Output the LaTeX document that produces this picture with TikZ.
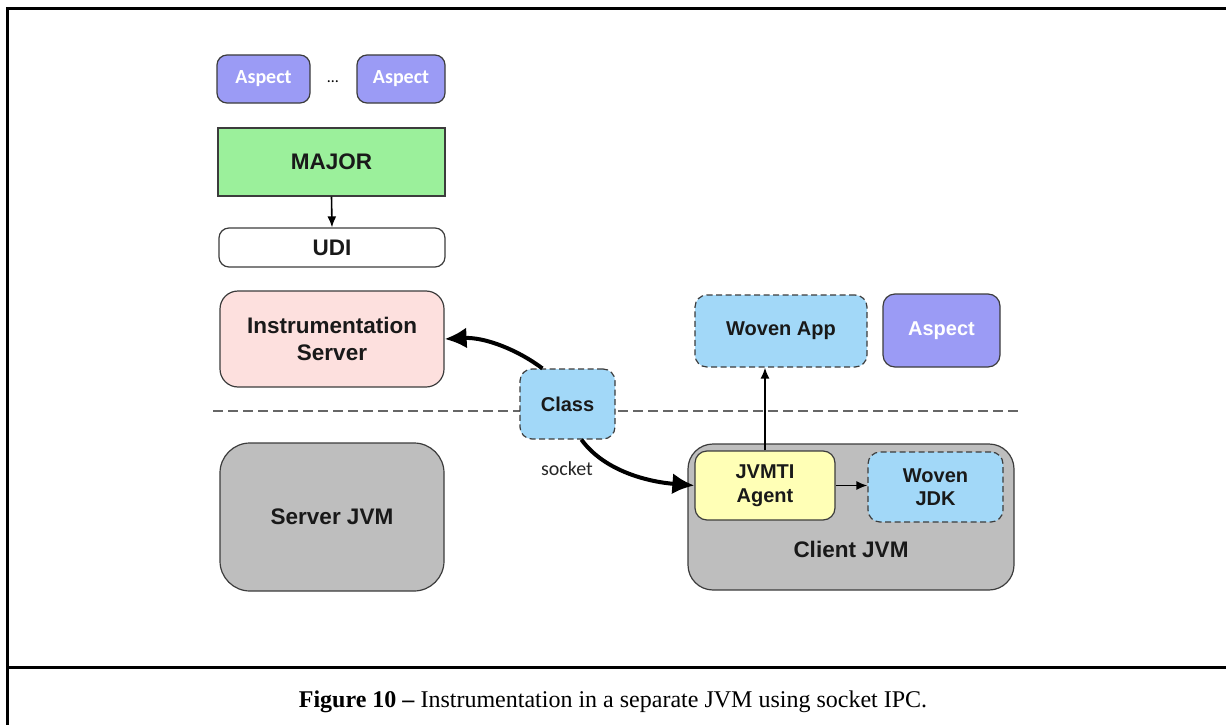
\documentclass[tikz,border=0pt]{standalone}
\usepackage{fontspec}
\setmainfont{Liberation Serif}
\newfontfamily\helv{Liberation Sans}
\newfontfamily\calib{Carlito}
\usetikzlibrary{calc,arrows.meta}
\definecolor{aspectc}{RGB}{155,155,245}
\definecolor{majorc}{RGB}{155,240,155}
\definecolor{pinkc}{RGB}{253,224,222}
\definecolor{bluec}{RGB}{162,216,248}
\definecolor{grayc}{RGB}{190,190,190}
\definecolor{yellowc}{RGB}{255,255,182}
\definecolor{edgec}{RGB}{60,60,60}
\tikzset{
  box/.style={draw=edgec, line width=1.2pt, rounded corners=10pt, align=center, inner sep=0pt,
    font=\helv\bfseries\fontsize{22.5}{27}\selectfont, text=black!90},
  dbox/.style={box, dash pattern=on 6pt off 3.5pt, fill=bluec},
  aspectbox/.style={box, fill=aspectc, text=white, font=\calib\bfseries\fontsize{20}{24}\selectfont},
  thinarrow/.style={line width=1.6pt, -{Latex[length=11pt,width=9pt]}},
  thickarrow/.style={line width=4pt, -{Latex[length=22pt,width=21pt]}},
}
\begin{document}
\begin{tikzpicture}[x=1pt,y=-1pt]
\useasboundingbox (0,0) rectangle (1226,725);
% frame
\draw[line width=3pt] (7,735) -- (7,9) -- (1240,9);
\draw[line width=3pt] (7,667) -- (1240,667);
% separator
\draw[gray!80!black, line width=1.3pt, dash pattern=on 10pt off 5pt] (213,411) -- (1020,411);
% top left
\node[aspectbox, minimum width=93pt, minimum height=48pt] (asp1) at (263.5,79) {Aspect};
\node[aspectbox, minimum width=88pt, minimum height=48pt] (asp2) at (401,79) {Aspect};
\node[font=\calib\fontsize{16}{18}\selectfont] (dots) at (333,82) {\dots};
\node[box, rounded corners=0pt, fill=majorc, minimum width=227pt, minimum height=68pt] (major) at (331.5,162) {MAJOR};
\node[box, fill=white, minimum width=226pt, minimum height=39pt] (udi) at (332,247.5) {UDI};
\draw[thinarrow] (major.south) -- (udi.north);
% left
\node[box, fill=pinkc, rounded corners=18pt, minimum width=224pt, minimum height=96pt] (iserv) at (332,339) {Instrumentation\\Server};
\node[box, fill=grayc, rounded corners=30pt, minimum width=224pt, minimum height=148pt] (sjvm) at (332,517) {Server JVM};
% class
\node[dbox, rounded corners=12pt, minimum width=95pt, minimum height=70pt, font=\helv\bfseries\fontsize{20}{24}\selectfont] (class) at (567.5,404) {Class};
\node[font=\calib\fontsize{20}{24}\selectfont, text=black!85] (socket) at (567,469) {socket};
% right
\node[dbox, rounded corners=12pt, minimum width=172pt, minimum height=72pt, font=\helv\bfseries\fontsize{20}{24}\selectfont] (wapp) at (781,331) {Woven App};
\node[box, fill=aspectc, text=white, rounded corners=12pt, minimum width=117pt, minimum height=73pt, font=\helv\bfseries\fontsize{20}{24}\selectfont] (asp3) at (941.5,330.5) {Aspect};
\node[box, fill=grayc, rounded corners=25pt, minimum width=326pt, minimum height=146pt] (cjvm) at (851,517) {};
\node[font=\helv\bfseries\fontsize{22.5}{26}\selectfont, text=black!90] (cjvmlabel) at (851,549) {Client JVM};
\node[box, fill=yellowc, rounded corners=12pt, minimum width=140pt, minimum height=69pt, font=\helv\bfseries\fontsize{20}{23.5}\selectfont] (jvmti) at (765,485.5) {JVMTI\\Agent};
\node[dbox, rounded corners=12pt, minimum width=135pt, minimum height=70pt, font=\helv\bfseries\fontsize{20}{23.5}\selectfont] (wjdk) at (935.5,487) {Woven\\JDK};
\draw[thinarrow] (jvmti.north) -- (jvmti.north |- wapp.south);
\draw[thinarrow] (jvmti.east) -- (jvmti.east -| wjdk.west);
% thick arrows
\draw[thickarrow] ($(class.north west)+(23,0)$) .. controls (518,350) and (485,337) .. (iserv.east);
\draw[thickarrow] ($(class.south west)+(62,0)$) .. controls (605,472) and (650,482) .. (jvmti.west);
% caption
\node[font=\fontsize{24}{28}\selectfont] (caption) at (613,702) {\textbf{Figure 10 –} Instrumentation in a separate JVM using socket IPC.};
\end{tikzpicture}
\end{document}
